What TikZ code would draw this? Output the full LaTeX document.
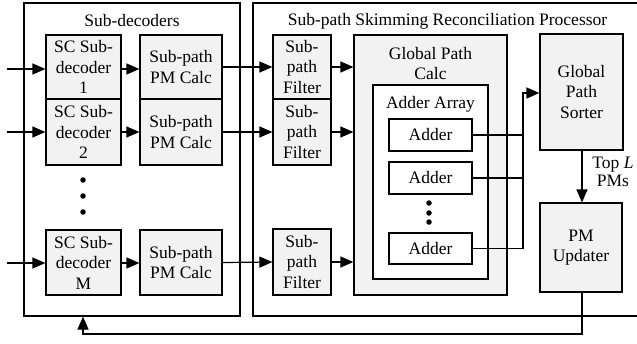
\documentclass[tikz,border=0pt]{standalone}
\usepackage{fontspec}
\setmainfont{Liberation Serif}
\usetikzlibrary{arrows.meta}
\definecolor{boxfill}{HTML}{F2F2F2}
\newcommand{\bx}[7]{\node[#6, minimum width={(#4-#2)*1pt}, minimum height={(#5-#3)*1pt}] (#1) at ({(#2+#4)/2},{(#3+#5)/2}) {#7};}
\tikzset{
  grybox/.style={draw, line width=1.2pt, fill=boxfill, inner sep=0pt, align=center},
  whtbox/.style={draw, line width=1.2pt, fill=white, inner sep=0pt, align=center},
  txt/.style={inner sep=0pt, align=center},
  arr/.style={line width=1.2pt, -{Triangle[length=13pt,width=11pt]}},
  ln/.style={line width=1.2pt},
  dot/.style={circle, fill=black, inner sep=0pt, minimum size=5.5pt}
}
\begin{document}
\begin{tikzpicture}[x=1pt,y=-1pt,font=\fontsize{17.5}{20.5}\selectfont]
\useasboundingbox (0,0) rectangle (637,343);
% containers
\bx{subdec}{24}{3}{240}{316}{whtbox}{}
\bx{ssrp}{253}{3}{648}{316}{whtbox}{}
\node[txt] (subdect) at (132,21) {Sub-decoders};
\node[txt] (ssrpt) at (447.5,21) {Sub-path Skimming Reconciliation Processor};
\bx{gpc}{354}{35}{507}{295}{grybox}{}
\node[txt] (gpct) at (430.5,63.5) {Global Path\\Calc};
\bx{aa}{373}{85}{488}{279}{whtbox}{}
\node[txt] (aat) at (430.5,104) {Adder Array};
% sub-decoders
\bx{sc1}{46}{35}{121}{99}{grybox}{SC Sub-\\decoder\\1}
\bx{sc2}{46}{99}{121}{165}{grybox}{SC Sub-\\decoder\\2}
\bx{scM}{46}{230}{121}{295}{grybox}{SC Sub-\\decoder\\M}
\bx{pm1}{140}{35}{222}{99}{grybox}{Sub-path\\PM Calc}
\bx{pm2}{140}{99}{222}{165}{grybox}{Sub-path\\PM Calc}
\bx{pmM}{140}{230}{222}{295}{grybox}{Sub-path\\PM Calc}
\node[dot] (d1) at (83,180) {};
\node[dot] (d2) at (83,196) {};
\node[dot] (d3) at (83,212) {};
% filters
\bx{f1}{273}{35}{331}{99}{grybox}{Sub-\\path\\Filter}
\bx{f2}{273}{99}{331}{165}{grybox}{Sub-\\path\\Filter}
\bx{fM}{273}{229}{331}{295}{grybox}{Sub-\\path\\Filter}
% adders
\bx{add1}{389}{119}{472}{151}{whtbox}{Adder}
\bx{add2}{389}{162}{472}{194}{whtbox}{Adder}
\bx{add3}{389}{233}{472}{264}{whtbox}{Adder}
\node[dot] (e1) at (429,203) {};
\node[dot] (e2) at (429,213) {};
\node[dot] (e3) at (429,222) {};
% sorter / updater
\bx{sorter}{540}{34}{623}{150}{grybox}{Global\\Path\\Sorter}
\bx{upd}{540}{203}{622}{292}{grybox}{PM\\Updater}
\node[txt] (topl) at (613,172) {Top \textit{L}\\[-2pt]PMs};
% inputs
\coordinate (in1) at (7,69);
\coordinate (in2) at (7,132);
\coordinate (inM) at (7,263);
\draw[arr] (in1) -- (sc1.west |- in1);
\draw[arr] (in2) -- (sc2.west |- in2);
\draw[arr] (inM) -- (scM.west |- inM);
\draw[arr] (sc1.east |- in1) -- (pm1.west |- in1);
\draw[arr] (sc2.east |- in2) -- (pm2.west |- in2);
\draw[arr] (scM.east |- inM) -- (pmM.west |- inM);
\draw[arr] (pm1.east) -- (f1.west);
\draw[arr] (pm2.east) -- (f2.west);
\draw[arr] (pmM.east) -- (fM.west);
\draw[arr] (f1.east) -- (gpc.west |- f1.east);
\draw[arr] (f2.east) -- (gpc.west |- f2.east);
\draw[arr] (fM.east) -- (gpc.west |- fM.east);
% adder bus
\coordinate (bustop) at (523,93);
\draw[ln] (add1.east) -- (add1.east -| bustop);
\draw[ln] (add2.east) -- (add2.east -| bustop);
\draw[arr] (add3.east) -| (bustop) -- (sorter.west |- bustop);
\draw[arr] (sorter.south -| 582,0) -- (upd.north -| 582,0);
% feedback
\coordinate (fbr) at (582,334);
\coordinate (fbl) at (83,334);
\draw[arr] (upd.south -| fbr) -- (fbr) -- (fbl) -- (subdec.south -| fbl);
\end{tikzpicture}
\end{document}
